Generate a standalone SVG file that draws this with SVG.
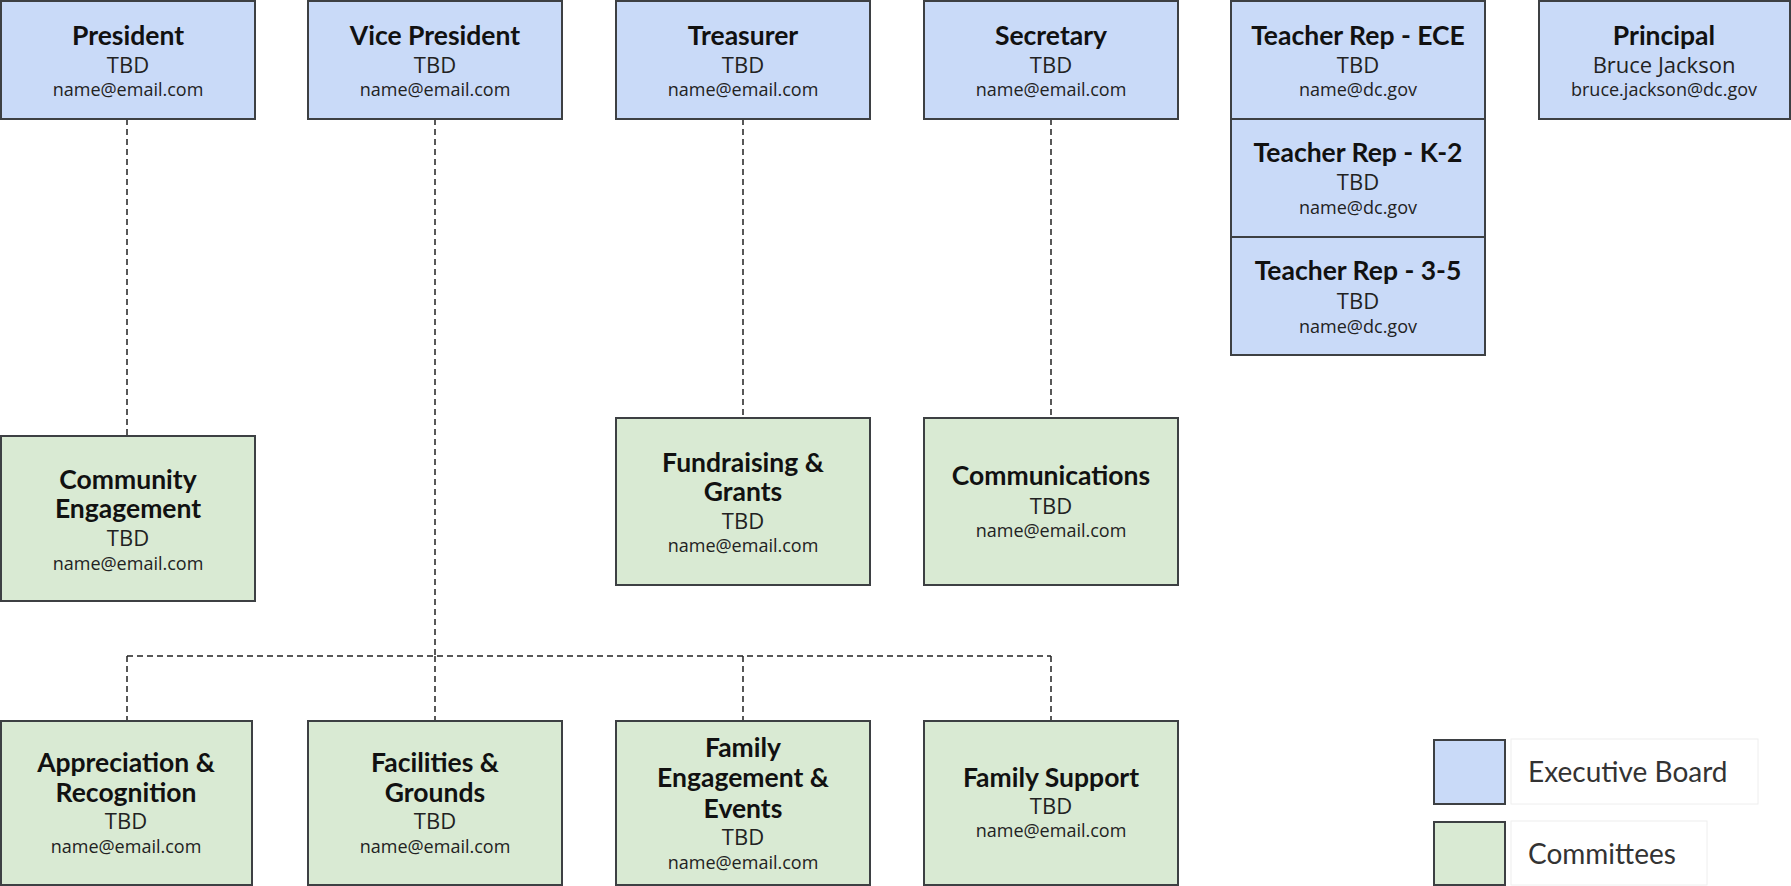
<svg xmlns="http://www.w3.org/2000/svg" width="1791" height="886" viewBox="0 0 1791 886">
<style>
.exec{fill:#c9daf8;stroke:#3d4043;stroke-width:2}
.comm{fill:#d9ead3;stroke:#3d4043;stroke-width:2}
.t{font-family:Lato,"Liberation Sans",sans-serif;font-weight:700;font-size:26.5px;fill:#111;text-anchor:middle}
.n{font-family:"Open Sans","Liberation Sans",sans-serif;font-size:22px;fill:#222;text-anchor:middle}
.e{font-family:"Open Sans","Liberation Sans",sans-serif;font-size:18px;fill:#222;text-anchor:middle}
.c{fill:none;stroke:#222;stroke-width:1.5;stroke-dasharray:6 4}
.lg{font-family:Lato,"Liberation Sans",sans-serif;font-size:28px;fill:#333}
.lb{fill:#fff;stroke:#eeeeee;stroke-width:1}
</style>
<rect width="1791" height="886" fill="#fff"/>
<g id="connectors">
<path class="c" d="M127 119V436"/>
<path class="c" d="M743 119V418"/>
<path class="c" d="M1051 119V418"/>
<path class="c" d="M435 119V656"/>
<path class="c" d="M127 656H1051"/>
<path class="c" d="M127 656V721M435 656V721M743 656V721M1051 656V721"/>
</g>
<g id="president"><rect class="exec" x="1" y="1" width="254" height="118"/><text class="t" x="128" y="45">President</text><text class="n" x="128" y="73">TBD</text><text class="e" x="128" y="96">name@email.com</text></g>
<g id="vice-president"><rect class="exec" x="308" y="1" width="254" height="118"/><text class="t" x="435" y="45">Vice President</text><text class="n" x="435" y="73">TBD</text><text class="e" x="435" y="96">name@email.com</text></g>
<g id="treasurer"><rect class="exec" x="616" y="1" width="254" height="118"/><text class="t" x="743" y="45">Treasurer</text><text class="n" x="743" y="73">TBD</text><text class="e" x="743" y="96">name@email.com</text></g>
<g id="secretary"><rect class="exec" x="924" y="1" width="254" height="118"/><text class="t" x="1051" y="45">Secretary</text><text class="n" x="1051" y="73">TBD</text><text class="e" x="1051" y="96">name@email.com</text></g>
<g id="teacher-ece"><rect class="exec" x="1231" y="1" width="254" height="118"/><text class="t" x="1358" y="45">Teacher Rep - ECE</text><text class="n" x="1358" y="73">TBD</text><text class="e" x="1358" y="96">name@dc.gov</text></g>
<g id="teacher-k2"><rect class="exec" x="1231" y="119" width="254" height="118"/><text class="t" x="1358" y="162">Teacher Rep - K-2</text><text class="n" x="1358" y="190">TBD</text><text class="e" x="1358" y="214">name@dc.gov</text></g>
<g id="teacher-35"><rect class="exec" x="1231" y="237" width="254" height="118"/><text class="t" x="1358" y="280">Teacher Rep - 3-5</text><text class="n" x="1358" y="309">TBD</text><text class="e" x="1358" y="333">name@dc.gov</text></g>
<g id="principal"><rect class="exec" x="1539" y="1" width="251" height="118"/><text class="t" x="1664" y="45">Principal</text><text class="n" x="1664" y="73">Bruce Jackson</text><text class="e" x="1664" y="96">bruce.jackson@dc.gov</text></g>
<g id="community-engagement"><rect class="comm" x="1" y="436" width="254" height="165"/><text class="t" x="128" y="489">Community</text><text class="t" x="128" y="518">Engagement</text><text class="n" x="128" y="546">TBD</text><text class="e" x="128" y="570">name@email.com</text></g>
<g id="fundraising"><rect class="comm" x="616" y="418" width="254" height="167"/><text class="t" x="743" y="472">Fundraising &amp;</text><text class="t" x="743" y="501">Grants</text><text class="n" x="743" y="529">TBD</text><text class="e" x="743" y="552">name@email.com</text></g>
<g id="communications"><rect class="comm" x="924" y="418" width="254" height="167"/><text class="t" x="1051" y="485">Communications</text><text class="n" x="1051" y="514">TBD</text><text class="e" x="1051" y="537">name@email.com</text></g>
<g id="appreciation"><rect class="comm" x="1" y="721" width="251" height="164"/><text class="t" x="126" y="772">Appreciation &amp;</text><text class="t" x="126" y="802">Recognition</text><text class="n" x="126" y="829">TBD</text><text class="e" x="126" y="853">name@email.com</text></g>
<g id="facilities"><rect class="comm" x="308" y="721" width="254" height="164"/><text class="t" x="435" y="772">Facilities &amp;</text><text class="t" x="435" y="802">Grounds</text><text class="n" x="435" y="829">TBD</text><text class="e" x="435" y="853">name@email.com</text></g>
<g id="family-engagement"><rect class="comm" x="616" y="721" width="254" height="164"/><text class="t" x="743" y="757">Family</text><text class="t" x="743" y="787">Engagement &amp;</text><text class="t" x="743" y="818">Events</text><text class="n" x="743" y="845">TBD</text><text class="e" x="743" y="869">name@email.com</text></g>
<g id="family-support"><rect class="comm" x="924" y="721" width="254" height="164"/><text class="t" x="1051" y="787">Family Support</text><text class="n" x="1051" y="814">TBD</text><text class="e" x="1051" y="837">name@email.com</text></g>
<g id="legend">
<rect class="exec" x="1434" y="740" width="71" height="64"/>
<rect class="lb" x="1511" y="739" width="247" height="65"/>
<text class="lg" x="1528" y="782">Executive Board</text>
<rect class="comm" x="1434" y="822" width="71" height="63"/>
<rect class="lb" x="1511" y="821" width="196" height="64"/>
<text class="lg" x="1528" y="864">Committees</text>
</g>
</svg>
